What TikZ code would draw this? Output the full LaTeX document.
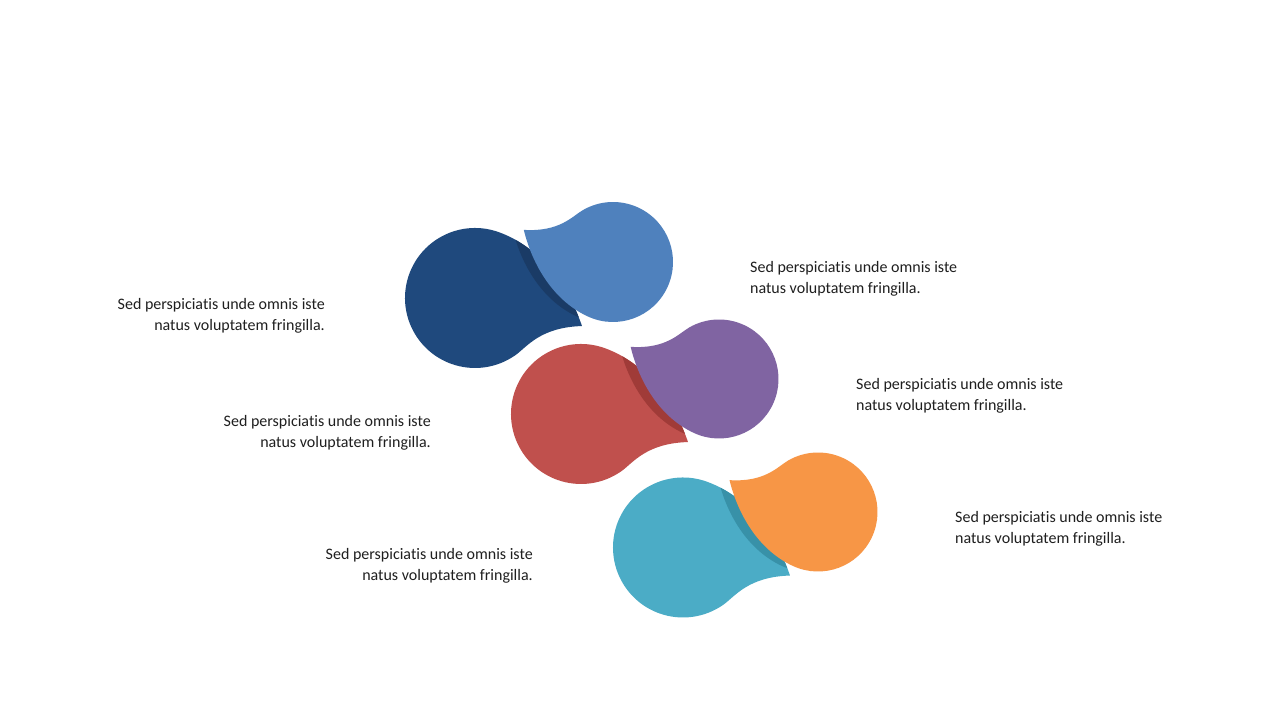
\documentclass[tikz,border=0pt]{standalone}
\usepackage{fontspec}
\setmainfont{Carlito}[Ligatures=NoCommon]
\definecolor{cDark}{HTML}{1F497D}
\definecolor{cDarkSh}{HTML}{1A3B66}
\definecolor{cLight}{HTML}{4F81BD}
\definecolor{cRed}{HTML}{C0504D}
\definecolor{cRedSh}{HTML}{A03B38}
\definecolor{cPurple}{HTML}{8064A2}
\definecolor{cTeal}{HTML}{4BACC6}
\definecolor{cTealSh}{HTML}{3891A8}
\definecolor{cOrange}{HTML}{F79646}
\newcommand{\droppath}{(1.58,0) .. controls (1.305,0.418) and (0.784,0.935) .. (85:1) arc[start angle=85, end angle=320, radius=1] .. controls (0.895,-0.49) and (1.004,-0.168) .. (1.58,0) -- cycle}
\newcommand{\dropfill}[5]{\fill[#5, shift={(#1,#2)}, rotate=#4, scale=#3] \droppath;}
\newcommand{\dropclip}[4]{\clip[shift={(#1,#2)}, rotate=#4, scale=#3] \droppath;}
\tikzset{
  txt/.style={font=\fontsize{16}{21}\selectfont, inner sep=0pt, text=black!88},
  txtl/.style={txt, align=right, anchor=east},
  txtr/.style={txt, align=left, anchor=west}
}
\begin{document}
\begin{tikzpicture}[x=1pt,y=1pt]
\useasboundingbox (0,0) rectangle (1280,720);
\fill[white] (0,0) rectangle (1280,720);
% pair 1
\dropfill{475}{422}{70}{-14.7}{cDark}
\begin{scope}
  \dropclip{475}{422}{70}{-14.7}
  \dropfill{602}{458}{60}{160.2}{cDarkSh}
\end{scope}
\dropfill{613}{458}{60}{160.2}{cLight}
% pair 2
\dropfill{581}{306}{70}{-14.7}{cRed}
\begin{scope}
  \dropclip{581}{306}{70}{-14.7}
  \dropfill{708}{341}{59.5}{160}{cRedSh}
\end{scope}
\dropfill{719}{341}{59.5}{160}{cPurple}
% pair 3
\dropfill{683}{172.5}{70}{-14.7}{cTeal}
\begin{scope}
  \dropclip{683}{172.5}{70}{-14.7}
  \dropfill{807}{208}{59.5}{160.2}{cTealSh}
\end{scope}
\dropfill{818}{208}{59.5}{160.2}{cOrange}
% texts
\node[txtl] (t1) at (325,404) {Sed perspiciatis unde omnis iste\\natus voluptatem fringilla.};
\node[txtl] (t2) at (431,287) {Sed perspiciatis unde omnis iste\\natus voluptatem fringilla.};
\node[txtl] (t3) at (533,154) {Sed perspiciatis unde omnis iste\\natus voluptatem fringilla.};
\node[txtr] (t4) at (750,441) {Sed perspiciatis unde omnis iste\\natus voluptatem fringilla.};
\node[txtr] (t5) at (856,324) {Sed perspiciatis unde omnis iste\\natus voluptatem fringilla.};
\node[txtr] (t6) at (955,191) {Sed perspiciatis unde omnis iste\\natus voluptatem fringilla.};
\end{tikzpicture}
\end{document}
